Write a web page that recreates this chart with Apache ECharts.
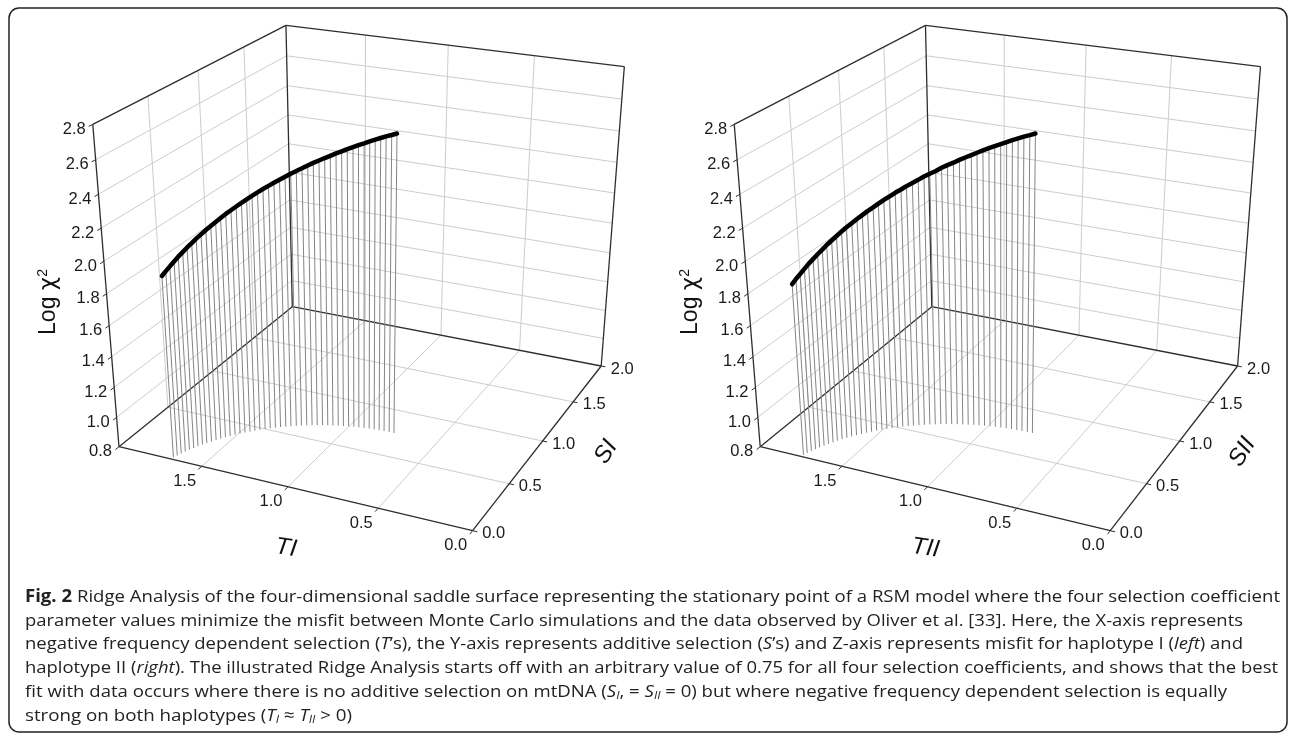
<!DOCTYPE html>
<html>
<head>
<meta charset="utf-8">
<title>Ridge Analysis</title>
<script src="https://cdn.jsdelivr.net/npm/echarts@6/dist/echarts.min.js"></script>
<style>
  html, body { margin: 0; padding: 0; background: #fff; }
  #main { width: 1295px; height: 738px; }
</style>
</head>
<body>
<div id="main"></div>
<script>
// axis ticks
var zTicks = [0.8, 1.0, 1.2, 1.4, 1.6, 1.8, 2.0, 2.2, 2.4, 2.6, 2.8];
var tTicks = [0.0, 0.5, 1.0, 1.5];
var sTicks = [0.0, 0.5, 1.0, 1.5, 2.0];
var tRange = [0, 2];
var sRange = [0, 2];
var zRange = [0.8, 2.8];

// ridge path, haplotype I (left panel)
var ridgeT1 = [0.750, 0.778, 0.807, 0.835, 0.863, 0.891, 0.919, 0.947, 0.974, 1.002, 1.029, 1.056, 1.083, 1.109, 1.135, 1.161,
  1.186, 1.211, 1.236, 1.260, 1.284, 1.307, 1.330, 1.352, 1.374, 1.395, 1.416, 1.436, 1.455, 1.474, 1.492, 1.510,
  1.527, 1.543, 1.558, 1.573, 1.587, 1.601, 1.613, 1.625, 1.636, 1.647, 1.656, 1.665, 1.673, 1.680];
var ridgeS1 = [0.750, 0.750, 0.748, 0.746, 0.743, 0.740, 0.735, 0.729, 0.723, 0.716, 0.708, 0.700, 0.690, 0.680, 0.669, 0.657,
  0.645, 0.631, 0.617, 0.603, 0.587, 0.571, 0.554, 0.537, 0.519, 0.500, 0.480, 0.460, 0.440, 0.419, 0.397, 0.375,
  0.352, 0.329, 0.305, 0.281, 0.256, 0.231, 0.206, 0.180, 0.154, 0.128, 0.101, 0.074, 0.047, 0.020];
var ridgeChi1 = [2.690, 2.677, 2.665, 2.652, 2.639, 2.626, 2.612, 2.599, 2.585, 2.571, 2.557, 2.543, 2.528, 2.514, 2.499, 2.485,
  2.470, 2.454, 2.439, 2.424, 2.408, 2.392, 2.376, 2.360, 2.344, 2.328, 2.311, 2.294, 2.277, 2.260, 2.243, 2.226,
  2.208, 2.190, 2.173, 2.155, 2.136, 2.118, 2.099, 2.081, 2.062, 2.043, 2.024, 2.004, 1.985, 1.966];

// ridge path, haplotype II (right panel)
var ridgeT2 = [0.750, 0.780, 0.811, 0.841, 0.871, 0.901, 0.931, 0.961, 0.990, 1.020, 1.049, 1.077, 1.106, 1.134, 1.162, 1.190,
  1.217, 1.243, 1.270, 1.296, 1.321, 1.346, 1.371, 1.394, 1.418, 1.440, 1.463, 1.484, 1.504, 1.525, 1.544, 1.563,
  1.581, 1.599, 1.615, 1.631, 1.646, 1.661, 1.673, 1.686, 1.698, 1.710, 1.719, 1.729, 1.738, 1.745];
var ridgeS2 = [0.750, 0.750, 0.748, 0.746, 0.743, 0.740, 0.735, 0.729, 0.723, 0.716, 0.708, 0.700, 0.690, 0.680, 0.669, 0.657,
  0.645, 0.631, 0.617, 0.603, 0.587, 0.571, 0.554, 0.537, 0.519, 0.500, 0.480, 0.460, 0.440, 0.419, 0.397, 0.375,
  0.352, 0.329, 0.305, 0.281, 0.256, 0.231, 0.206, 0.180, 0.154, 0.128, 0.101, 0.074, 0.047, 0.020];
var ridgeChi2 = [2.690, 2.676, 2.663, 2.649, 2.635, 2.620, 2.605, 2.591, 2.576, 2.561, 2.545, 2.530, 2.514, 2.499, 2.482, 2.467,
  2.451, 2.433, 2.417, 2.401, 2.383, 2.366, 2.349, 2.331, 2.314, 2.296, 2.278, 2.260, 2.241, 2.223, 2.204, 2.186,
  2.166, 2.147, 2.128, 2.108, 2.088, 2.068, 2.048, 2.028, 2.007, 1.987, 1.966, 1.944, 1.924, 1.903];

var captionLines = [
  '{b|Fig. 2} Ridge Analysis of the four-dimensional saddle surface representing the stationary point of a RSM model where the four selection coefficient',
  'parameter values minimize the misfit between Monte Carlo simulations and the data observed by Oliver et al. [33]. Here, the X-axis represents',
  'negative frequency dependent selection ({i|T}\u2019s), the Y-axis represents additive selection ({i|S}\u2019s) and Z-axis represents misfit for haplotype I ({i|left}) and',
  'haplotype II ({i|right}). The illustrated Ridge Analysis starts off with an arbitrary value of 0.75 for all four selection coefficients, and shows that the best',
  'fit with data occurs where there is no additive selection on mtDNA ({i|S}{sub|I}, = {i|S}{sub|II} = 0) but where negative frequency dependent selection is equally',
  'strong on both haplotypes ({i|T}{sub|I} \u2248 {i|T}{sub|II} > 0)'
];
// right end of each printed caption line (ragged right)
var captionEnds = [1280, 1243, 1243, 1278, 1227, 352];

// perspective camera of the 3D box: (T, S, log chi2) -> panel pixels
function project(t, s, z) {
  var w = 0.046515 * t + 0.09845 * s - 0.053 * z + 1.0424;
  return [(-171.265 * t + 123.49 * s - 19.25 * z + 488.0) / w,
          (-21.22 * t - 46.315 * s - 182.75 * z + 676.9) / w];
}

var SANS = '"Liberation Sans", Arial, sans-serif';
var LABEL_FONT = '16.5px ' + SANS;

function boxLines() {
  var z0 = zRange[0], z1 = zRange[1];
  var t0 = tRange[0], t1 = tRange[1], s0 = sRange[0], s1 = sRange[1];
  var grid = [], edges = [], ticks = [];
  zTicks.forEach(function (z) {
    ticks.push([t1, s0, z, t1, s0 - 0.035, z]);
    if (z === z0 || z === z1) return;
    grid.push([t1, s0, z, t1, s1, z]);
    grid.push([t1, s1, z, t0, s1, z]);
  });
  tTicks.forEach(function (t) {
    ticks.push([t, s0, z0, t, s0 - 0.035, z0]);
    if (t <= t0 || t >= t1) return;
    grid.push([t, s1, z0, t, s1, z1]);
    grid.push([t, s0, z0, t, s1, z0]);
  });
  sTicks.forEach(function (s) {
    ticks.push([t0, s, z0, t0 - 0.025, s, z0]);
    if (s <= s0 || s >= s1) return;
    grid.push([t1, s, z0, t1, s, z1]);
    grid.push([t0, s, z0, t1, s, z0]);
  });
  edges.push([t0, s0, z0, t1, s0, z0]);
  edges.push([t0, s0, z0, t0, s1, z0]);
  edges.push([t1, s0, z0, t1, s1, z0]);
  edges.push([t1, s1, z0, t0, s1, z0]);
  edges.push([t1, s0, z0, t1, s0, z1]);
  edges.push([t1, s1, z0, t1, s1, z1]);
  edges.push([t0, s1, z0, t0, s1, z1]);
  edges.push([t1, s0, z1, t1, s1, z1]);
  edges.push([t1, s1, z1, t0, s1, z1]);
  return { grid: grid, edges: edges, ticks: ticks };
}

function segSeries(idx, segs, style) {
  return {
    type: 'custom', xAxisIndex: idx, yAxisIndex: idx, clip: false, silent: true,
    data: segs,
    renderItem: function (params, api) {
      var a = api.coord(project(api.value(0), api.value(1), api.value(2)));
      var b = api.coord(project(api.value(3), api.value(4), api.value(5)));
      return { type: 'line', shape: { x1: a[0], y1: a[1], x2: b[0], y2: b[1] }, style: style };
    }
  };
}

function panelSeries(idx, T, S, Z, tName, sName) {
  var box = boxLines();
  var pts = T.map(function (t, i) { return [t, S[i], Z[i]]; });
  var labels = [];
  zTicks.forEach(function (z) { labels.push([z, 0]); });
  tTicks.forEach(function (t) { labels.push([t, 1]); });
  sTicks.forEach(function (s) { labels.push([s, 2]); });

  return [
    segSeries(idx, box.grid, { stroke: '#cdcdcd', lineWidth: 1 }),
    segSeries(idx, box.edges, { stroke: '#2e2e2e', lineWidth: 1.3 }),
    segSeries(idx, box.ticks, { stroke: '#2e2e2e', lineWidth: 1 }),
    {
      // drop lines from the ridge down to the floor
      type: 'custom', xAxisIndex: idx, yAxisIndex: idx, clip: false, silent: true,
      data: pts,
      renderItem: function (params, api) {
        var t = api.value(0), s = api.value(1);
        var a = api.coord(project(t, s, zRange[0]));
        var b = api.coord(project(t, s, api.value(2)));
        return { type: 'line', shape: { x1: a[0], y1: a[1], x2: b[0], y2: b[1] },
          style: { stroke: '#858585', lineWidth: 1 } };
      }
    },
    {
      // the ridge itself
      type: 'custom', xAxisIndex: idx, yAxisIndex: idx, clip: false, silent: true,
      data: pts,
      renderItem: function (params, api) {
        if (params.dataIndex !== 0) return null;
        var line = pts.map(function (p) { return api.coord(project(p[0], p[1], p[2])); });
        return { type: 'polyline', shape: { points: line },
          style: { stroke: '#000', lineWidth: 4.5, fill: null, lineCap: 'round', lineJoin: 'round' } };
      }
    },
    {
      // tick labels
      type: 'custom', xAxisIndex: idx, yAxisIndex: idx, clip: false, silent: true,
      data: labels,
      renderItem: function (params, api) {
        var v = api.value(0), kind = api.value(1), p, align = 'center';
        if (kind === 0) { p = api.coord(project(tRange[1], sRange[0], v)); p = [p[0] - 7, p[1] + 5]; align = 'right'; }
        else if (kind === 1) { p = api.coord(project(v, sRange[0], zRange[0])); p = [p[0] - 17, p[1] + 15]; }
        else { p = api.coord(project(tRange[0], v, zRange[0])); p = [p[0] + 21, p[1] + 3]; }
        return { type: 'text', x: p[0], y: p[1],
          style: { text: v.toFixed(1), font: LABEL_FONT, fill: '#1a1a1a', align: align, verticalAlign: 'middle' } };
      }
    },
    {
      // axis titles
      type: 'custom', xAxisIndex: idx, yAxisIndex: idx, clip: false, silent: true,
      data: [[0]],
      renderItem: function (params, api) {
        var pz = api.coord([49, 302]), pt = api.coord([286, 548]), ps = api.coord([606, 452]);
        return { type: 'group', children: [
          { type: 'text', x: pz[0], y: pz[1], rotation: Math.PI / 2,
            style: { text: '{a|Log }{c|\u03c7}{s|2}', align: 'center', verticalAlign: 'middle', fill: '#111',
              rich: { a: { fontSize: 23, fontFamily: SANS, fill: '#111' },
                      c: { fontSize: 23, fontFamily: '"DejaVu Sans", sans-serif', fill: '#111' },
                      s: { fontSize: 14, fontFamily: SANS, fill: '#111', verticalAlign: 'top', padding: [0, 0, 12, 0] } } } },
          { type: 'text', x: pt[0], y: pt[1], rotation: -8 * Math.PI / 180,
            style: { text: tName, font: 'italic 24px ' + SANS, fill: '#111',
              align: 'center', verticalAlign: 'middle' } },
          { type: 'text', x: ps[0], y: ps[1], rotation: 58 * Math.PI / 180,
            style: { text: sName, font: 'italic 24px ' + SANS, fill: '#111',
              align: 'center', verticalAlign: 'middle' } }
        ] };
      }
    }
  ];
}

// caption: measure each line and squeeze it to the printed line length
var CAP_FONT = '"Open Sans", "DejaVu Sans", sans-serif';
var CAP_SIZE = 17;
var SUB_SIZE = 11;
var ctx = document.createElement('canvas').getContext('2d');
function captionWidth(line) {
  var w = 0, re = /\{(\w+)\|([^}]*)\}/g, last = 0, m;
  function seg(txt, font) { ctx.font = font; w += ctx.measureText(txt).width; }
  while ((m = re.exec(line))) {
    seg(line.slice(last, m.index), CAP_SIZE + 'px ' + CAP_FONT);
    if (m[1] === 'b') seg(m[2], 'bold ' + CAP_SIZE + 'px ' + CAP_FONT);
    else if (m[1] === 'i') seg(m[2], 'italic ' + CAP_SIZE + 'px ' + CAP_FONT);
    else seg(m[2], 'italic ' + SUB_SIZE + 'px ' + CAP_FONT);
    last = re.lastIndex;
  }
  seg(line.slice(last), CAP_SIZE + 'px ' + CAP_FONT);
  return w;
}

var captionGraphics = captionLines.map(function (line, i) {
  return {
    type: 'text', x: 25, y: 597 + i * 23.8, scaleX: (captionEnds[i] - 25) / captionWidth(line),
    style: {
      text: line, fontSize: CAP_SIZE, fontFamily: CAP_FONT, fill: '#222',
      verticalAlign: 'middle',
      rich: {
        b: { fontSize: CAP_SIZE, fontFamily: CAP_FONT, fontWeight: 'bold', fill: '#222' },
        i: { fontSize: CAP_SIZE, fontFamily: CAP_FONT, fontStyle: 'italic', fill: '#222' },
        sub: { fontSize: SUB_SIZE, fontFamily: CAP_FONT, fontStyle: 'italic', fill: '#222', verticalAlign: 'bottom', padding: [8, 0, 0, 0] }
      }
    }
  };
});

var myChart = echarts.init(document.getElementById('main'), null, { renderer: 'canvas' });
var option = {
  animation: false,
  backgroundColor: '#fff',
  grid: [
    { left: 0, top: 0, width: 640, height: 738 },
    { left: 642.4, top: 0, width: 633.6, height: 738 }
  ],
  xAxis: [
    { gridIndex: 0, type: 'value', min: 0, max: 640, show: false },
    { gridIndex: 1, type: 'value', min: 0, max: 640, show: false }
  ],
  yAxis: [
    { gridIndex: 0, type: 'value', min: 0, max: 738, inverse: true, show: false },
    { gridIndex: 1, type: 'value', min: 0, max: 738, inverse: true, show: false }
  ],
  graphic: [
    { type: 'rect', shape: { x: 9, y: 8, width: 1278, height: 724, r: 10 },
      style: { fill: 'none', stroke: '#222', lineWidth: 1.5 }, silent: true }
  ].concat(captionGraphics),
  series: panelSeries(0, ridgeT1, ridgeS1, ridgeChi1, 'TI', 'SI')
    .concat(panelSeries(1, ridgeT2, ridgeS2, ridgeChi2, 'TII', 'SII'))
};
myChart.setOption(option);
</script>
</body>
</html>
